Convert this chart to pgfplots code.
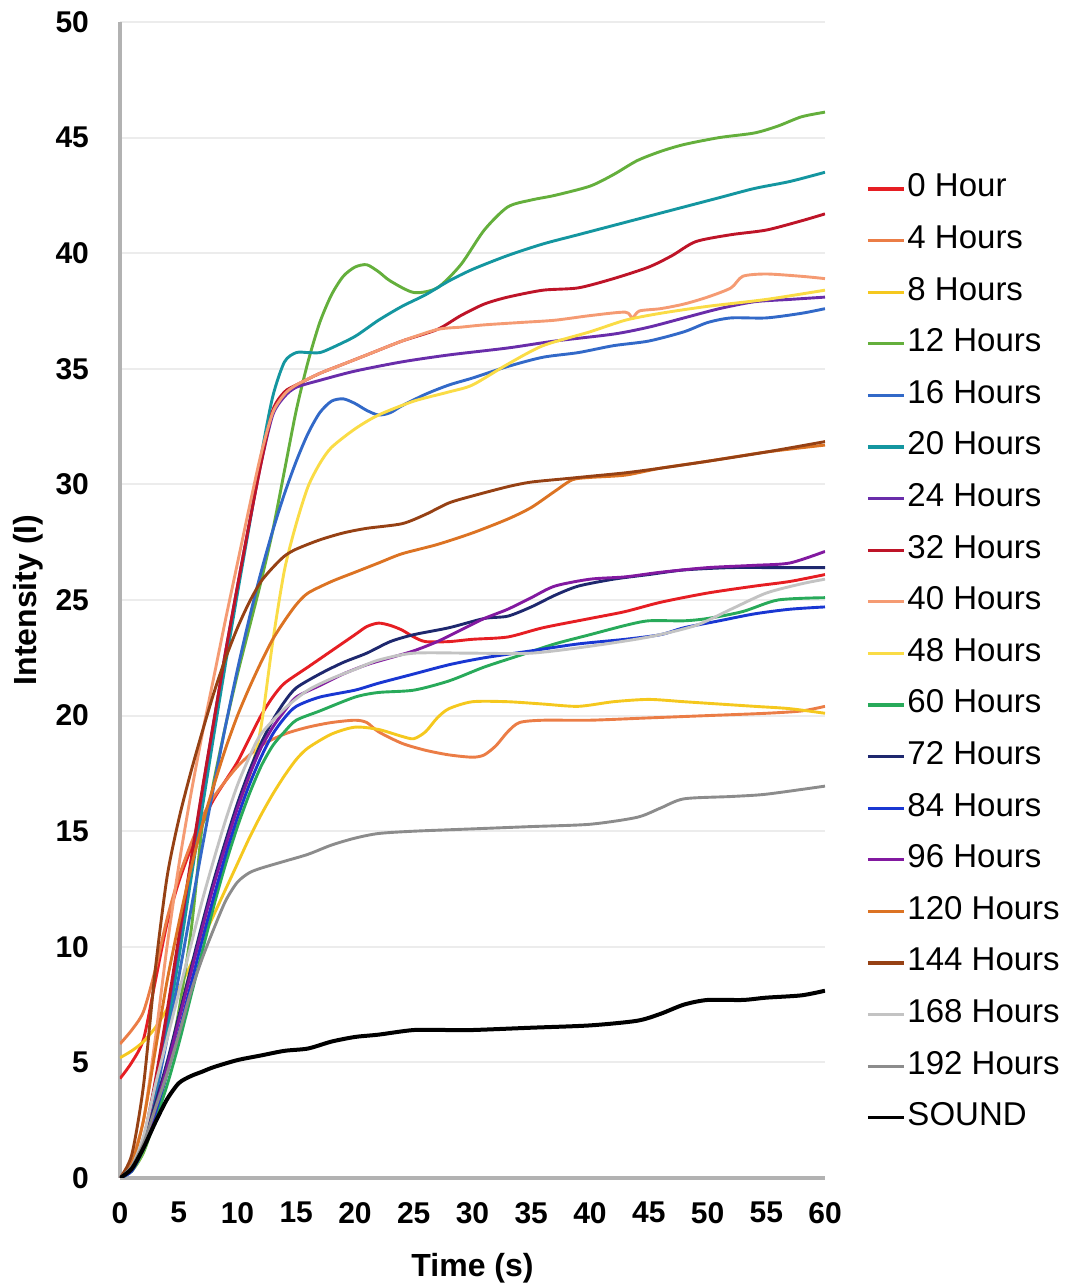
\documentclass[border=0pt]{standalone}
\usepackage{pgfplots}
\pgfplotsset{compat=1.18}
\usepackage{fontspec}
\setmainfont{Liberation Sans}
\usetikzlibrary{calc}
\definecolor{c0}{RGB}{230,30,35}
\definecolor{c4}{RGB}{235,125,70}
\definecolor{c8}{RGB}{245,200,30}
\definecolor{c12}{RGB}{100,175,60}
\definecolor{c16}{RGB}{50,105,200}
\definecolor{c20}{RGB}{20,150,160}
\definecolor{c24}{RGB}{105,45,170}
\definecolor{c32}{RGB}{190,20,40}
\definecolor{c40}{RGB}{245,155,115}
\definecolor{c48}{RGB}{250,220,70}
\definecolor{c60}{RGB}{40,170,90}
\definecolor{c72}{RGB}{30,40,110}
\definecolor{c84}{RGB}{25,55,210}
\definecolor{c96}{RGB}{130,25,160}
\definecolor{c120}{RGB}{220,115,35}
\definecolor{c144}{RGB}{150,65,20}
\definecolor{c168}{RGB}{195,195,195}
\definecolor{c192}{RGB}{140,140,140}
\begin{document}
\begin{tikzpicture}
\begin{axis}[
  name=ax,
  scale only axis,
  width=352.5pt, height=578pt,
  xmin=0, xmax=60, ymin=0, ymax=50,
  xtick={0,5,...,60}, ytick={0,5,...,50},
  axis x line=bottom, axis y line=left,
  axis line style={draw=gray!60, line width=2.2pt, -},
  major tick length=0pt,
  ymajorgrids, grid style={gray!15, line width=1pt},
  /pgf/number format/assume math mode=true,
  ticklabel style={font=\fontsize{15}{18}\selectfont\bfseries},
  yticklabel style={xshift=-12pt},
  xticklabel style={yshift=-8.5pt},
  xlabel={Time (s)}, ylabel={Intensity (I)},
  label style={font=\fontsize{16}{19}\selectfont\bfseries},
  xlabel style={at={(axis description cs:0.5,0)}, anchor=north, yshift=-34pt},
  ylabel style={at={(axis description cs:-0.1305,0.5)}, anchor=center, rotate=0},
  legend style={at={(1.058,0.8698)}, anchor=north west, draw=none, fill=none,
    inner sep=0pt, row sep=9.8pt,
    font=\fontsize{16.5}{19}\selectfont,
    nodes={inner ysep=0pt, inner xsep=1pt, text height=12pt, text depth=4pt}},
  legend cell align=left,
  legend image code/.code={\draw[#1, line width=1.6pt] (0pt,0pt) -- (18pt,0pt);},
  every axis plot/.append style={line width=1.45pt, line join=round, smooth, tension=0.45},
]
% 0 Hour
\addplot[c0] coordinates {(0,4.3)(1,5.0)(2,6.0)(3,8.5)(4,11)(5,12.8)(6,14.2)(7,15.4)(8,16.4)(9,17.2)(10,18)(11,19)(12,20)(13,20.8)(14,21.4)(16,22.1)(18,22.8)(20,23.5)(21,23.85)(22,24.0)(23,23.9)(24,23.7)(25,23.4)(26,23.2)(28,23.2)(30,23.3)(33,23.4)(36,23.8)(40,24.2)(43,24.5)(46,24.9)(50,25.3)(54,25.6)(57,25.8)(60,26.1)};
\addlegendentry{0 Hour}
% 4 Hours
\addplot[c4] coordinates {(0,5.8)(1,6.4)(2,7.2)(3,9)(4,11.2)(5,13)(6,14.4)(7,15.6)(8,16.5)(10,17.8)(12,18.7)(14,19.2)(16,19.5)(18,19.7)(20,19.8)(21,19.7)(22,19.3)(24,18.8)(26,18.5)(28,18.3)(30,18.2)(31,18.3)(32,18.7)(33,19.3)(34,19.7)(36,19.8)(40,19.8)(45,19.9)(50,20.0)(55,20.1)(58,20.2)(60,20.4)};
\addlegendentry{4 Hours}
% 8 Hours
\addplot[c8] coordinates {(0,5.2)(1,5.5)(2,5.9)(3,6.5)(4,7.3)(5,8.2)(6,9.2)(7,10.3)(8,11.4)(9,12.5)(10,13.6)(11,14.7)(12,15.7)(13,16.6)(14,17.4)(15,18.1)(16,18.6)(18,19.2)(20,19.5)(22,19.4)(24,19.1)(25,19.0)(26,19.3)(27,19.9)(28,20.3)(30,20.6)(33,20.6)(36,20.5)(39,20.4)(42,20.6)(45,20.7)(48,20.6)(51,20.5)(54,20.4)(57,20.3)(60,20.1)};
\addlegendentry{8 Hours}
% 12 Hours
\addplot[c12] coordinates {(0,0)(1,0.3)(2,1.1)(3,2.6)(4,4.6)(5,7.2)(6,10.5)(6.5,12.8)(7,15.2)(7.5,15.8)(8,17.2)(9,19.6)(10,21.8)(11,23.8)(12,25.8)(13,28)(14,30.6)(15,33.2)(16,35.3)(17,37.0)(18,38.2)(19,39.0)(20,39.4)(21,39.5)(22,39.2)(23,38.8)(25,38.3)(27,38.5)(29,39.5)(31,41.0)(33,42.0)(35,42.3)(37,42.5)(40,42.9)(42,43.4)(44,44.0)(46,44.4)(48,44.7)(51,45.0)(54,45.2)(56,45.5)(58,45.9)(60,46.1)};
\addlegendentry{12 Hours}
% 16 Hours
\addplot[c16] coordinates {(0,0)(1,0.4)(2,1.5)(3,3.5)(4,6)(5,8.7)(6,11.5)(7,14.3)(8,17)(9,19.6)(10,22)(11,24.2)(12,26.2)(13,28)(14,29.6)(15,31)(16,32.2)(17,33.1)(18,33.6)(19,33.7)(20,33.5)(21,33.2)(22,33.0)(23,33.1)(24,33.4)(26,33.9)(28,34.3)(30,34.6)(33,35.1)(36,35.5)(39,35.7)(42,36.0)(45,36.2)(48,36.6)(50,37.0)(52,37.2)(55,37.2)(58,37.4)(60,37.6)};
\addlegendentry{16 Hours}
% 20 Hours
\addplot[c20] coordinates {(0,0)(1,0.5)(2,1.6)(3,3.8)(4,6.5)(5,9.5)(6,12.8)(7,16)(8,19.2)(9,22.3)(10,25.3)(11,28.2)(12,31.2)(13,33.8)(14,35.3)(15,35.7)(16,35.7)(17,35.7)(18,35.9)(20,36.4)(22,37.1)(24,37.7)(26,38.2)(28,38.8)(30,39.3)(33,39.9)(36,40.4)(39,40.8)(42,41.2)(45,41.6)(48,42.0)(51,42.4)(54,42.8)(57,43.1)(60,43.5)};
\addlegendentry{20 Hours}
% 24 Hours
\addplot[c24] coordinates {(0,0)(1,0.5)(2,1.6)(3,4)(4,7)(5,10.2)(6,13.5)(7,16.7)(8,19.8)(9,22.8)(10,25.6)(11,28.3)(12,30.9)(13,33.0)(14,33.8)(15,34.2)(17,34.5)(20,34.9)(24,35.3)(28,35.6)(33,35.9)(37,36.2)(42,36.5)(45,36.8)(48,37.2)(51,37.6)(54,37.9)(57,38.0)(60,38.1)};
\addlegendentry{24 Hours}
% 32 Hours
\addplot[c32] coordinates {(0,0)(1,0.5)(2,1.7)(3,4.2)(4,7.2)(5,10.4)(6,13.6)(7,16.8)(8,19.8)(9,22.8)(10,25.6)(11,28.3)(12,30.9)(13,33.2)(14,34.0)(15,34.3)(17,34.8)(19,35.2)(21,35.6)(24,36.2)(27,36.7)(29,37.3)(31,37.8)(33,38.1)(36,38.4)(39,38.5)(42,38.9)(45,39.4)(47,39.9)(49,40.5)(52,40.8)(55,41.0)(58,41.4)(60,41.7)};
\addlegendentry{32 Hours}
% 40 Hours
\addplot[c40] coordinates {(0,0)(1,0.8)(2,2.5)(3,6)(4,10)(5,13.5)(6,16.5)(7,19.2)(8,21.7)(9,24.2)(10,26.6)(11,29)(12,31.3)(13,33.1)(14,33.9)(15,34.3)(17,34.8)(19,35.2)(21,35.6)(24,36.2)(27,36.7)(29,36.8)(31,36.9)(34,37.0)(37,37.1)(40,37.3)(43,37.45)(43.6,37.2)(44.2,37.5)(46,37.6)(48,37.8)(50,38.1)(52,38.5)(53,39.0)(55,39.1)(58,39.0)(60,38.9)};
\addlegendentry{40 Hours}
% 48 Hours
\addplot[c48] coordinates {(0,0)(1,0.3)(2,1.2)(3,2.8)(4,4.8)(5,7)(6,9)(7,10.6)(8,12)(9,13.8)(10,15.5)(11,17.3)(12,19.5)(13,23.2)(14,26.3)(15,28.3)(16,29.9)(17,30.9)(18,31.6)(20,32.4)(22,33.0)(25,33.6)(28,34.0)(30,34.3)(33,35.2)(36,36.0)(40,36.6)(43,37.1)(46,37.4)(50,37.7)(55,38.0)(60,38.4)};
\addlegendentry{48 Hours}
% 60 Hours
\addplot[c60] coordinates {(0,0)(1,0.3)(2,1.2)(3,2.5)(4,4)(5,5.8)(6,7.8)(7,9.8)(8,11.8)(9,13.6)(10,15.2)(11,16.6)(12,17.8)(13,18.7)(14,19.3)(15,19.8)(17,20.2)(20,20.8)(22,21.0)(25,21.1)(28,21.5)(31,22.1)(34,22.6)(37,23.1)(40,23.5)(43,23.9)(45,24.1)(48,24.1)(50,24.2)(53,24.5)(56,25.0)(60,25.1)};
\addlegendentry{60 Hours}
% 72 Hours
\addplot[c72] coordinates {(0,0)(1,0.4)(2,1.5)(3,3.2)(4,5)(5,7)(6,9)(7,11)(8,12.9)(9,14.6)(10,16.2)(11,17.6)(12,18.8)(13,19.8)(14,20.6)(15,21.2)(17,21.8)(19,22.3)(21,22.7)(23,23.2)(25,23.5)(28,23.8)(31,24.2)(33,24.3)(35,24.7)(37,25.2)(39,25.6)(42,25.9)(45,26.1)(48,26.3)(52,26.4)(56,26.4)(60,26.4)};
\addlegendentry{72 Hours}
% 84 Hours
\addplot[c84] coordinates {(0,0)(1,0.3)(2,1.3)(3,2.8)(4,4.5)(5,6.3)(6,8.3)(7,10.3)(8,12.2)(9,14)(10,15.6)(11,17)(12,18.2)(13,19.2)(14,19.9)(15,20.4)(17,20.8)(20,21.1)(22,21.4)(25,21.8)(28,22.2)(31,22.5)(35,22.8)(39,23.1)(43,23.3)(46,23.5)(48,23.8)(51,24.1)(54,24.4)(57,24.6)(60,24.7)};
\addlegendentry{84 Hours}
% 96 Hours
\addplot[c96] coordinates {(0,0)(1,0.4)(2,1.4)(3,3)(4,4.8)(5,6.8)(6,8.8)(7,10.8)(8,12.7)(9,14.4)(10,16)(11,17.4)(12,18.6)(13,19.5)(14,20.2)(15,20.8)(17,21.3)(19,21.8)(21,22.2)(23,22.5)(25,22.8)(27,23.2)(29,23.7)(31,24.2)(33,24.6)(35,25.1)(37,25.6)(40,25.9)(43,26.0)(46,26.2)(50,26.4)(54,26.5)(57,26.6)(60,27.1)};
\addlegendentry{96 Hours}
% 120 Hours
\addplot[c120] coordinates {(0,0)(1,0.6)(2,2.5)(3,5.5)(4,8.5)(5,11)(6,13.3)(7,15.3)(8,17)(9,18.6)(10,20)(11,21.2)(12,22.3)(13,23.3)(14,24.1)(15,24.8)(16,25.3)(18,25.8)(20,26.2)(22,26.6)(24,27.0)(27,27.4)(30,27.9)(33,28.5)(35,29.0)(37,29.7)(38.5,30.2)(40,30.3)(43,30.4)(46,30.7)(50,31.0)(55,31.4)(60,31.7)};
\addlegendentry{120 Hours}
% 144 Hours
\addplot[c144] coordinates {(0,0)(1,1)(2,4)(3,9)(4,13)(5,15.5)(6,17.5)(7,19.3)(8,21)(9,22.5)(10,23.8)(11,24.9)(12,25.8)(13,26.4)(14,26.9)(15,27.2)(17,27.6)(19,27.9)(21,28.1)(24,28.3)(26,28.7)(28,29.2)(30,29.5)(33,29.9)(35,30.1)(38,30.25)(40,30.35)(43,30.5)(46,30.7)(50,31.0)(55,31.4)(60,31.85)};
\addlegendentry{144 Hours}
% 168 Hours
\addplot[c168] coordinates {(0,0)(1,0.5)(2,1.8)(3,4)(4,6)(5,8)(6,10)(7,12)(8,13.8)(9,15.5)(10,17)(11,18.2)(12,19.2)(14,20.3)(16,21.1)(18,21.6)(20,22.0)(22,22.4)(25,22.7)(30,22.7)(35,22.7)(40,23.0)(45,23.4)(49,23.9)(52,24.6)(55,25.3)(58,25.7)(60,25.9)};
\addlegendentry{168 Hours}
% 192 Hours
\addplot[c192] coordinates {(0,0)(1,0.5)(2,1.5)(3,3)(4,4.5)(5,6.2)(6,8)(7,9.5)(8,10.8)(9,12)(10,12.8)(11,13.2)(12,13.4)(14,13.7)(16,14.0)(18,14.4)(20,14.7)(22,14.9)(25,15.0)(30,15.1)(35,15.2)(40,15.3)(44,15.6)(46,16.0)(48,16.4)(52,16.5)(55,16.6)(60,16.95)};
\addlegendentry{192 Hours}
% SOUND
\addplot[black, line width=2pt] coordinates {(0,0)(1,0.4)(2,1.3)(3,2.4)(4,3.4)(5,4.1)(6,4.4)(7,4.6)(8,4.8)(10,5.1)(12,5.3)(14,5.5)(16,5.6)(18,5.9)(20,6.1)(22,6.2)(25,6.4)(28,6.4)(30,6.4)(35,6.5)(40,6.6)(44,6.8)(46,7.1)(48,7.5)(50,7.7)(53,7.7)(55,7.8)(58,7.9)(60,8.1)};
\addlegendentry{SOUND}
\end{axis}
\pgfresetboundingbox
\path[use as bounding box] ($(ax.south west)+(-60pt,-54.5pt)$) rectangle ($(ax.north east)+(127.5pt,11pt)$);
\end{tikzpicture}
\end{document}
